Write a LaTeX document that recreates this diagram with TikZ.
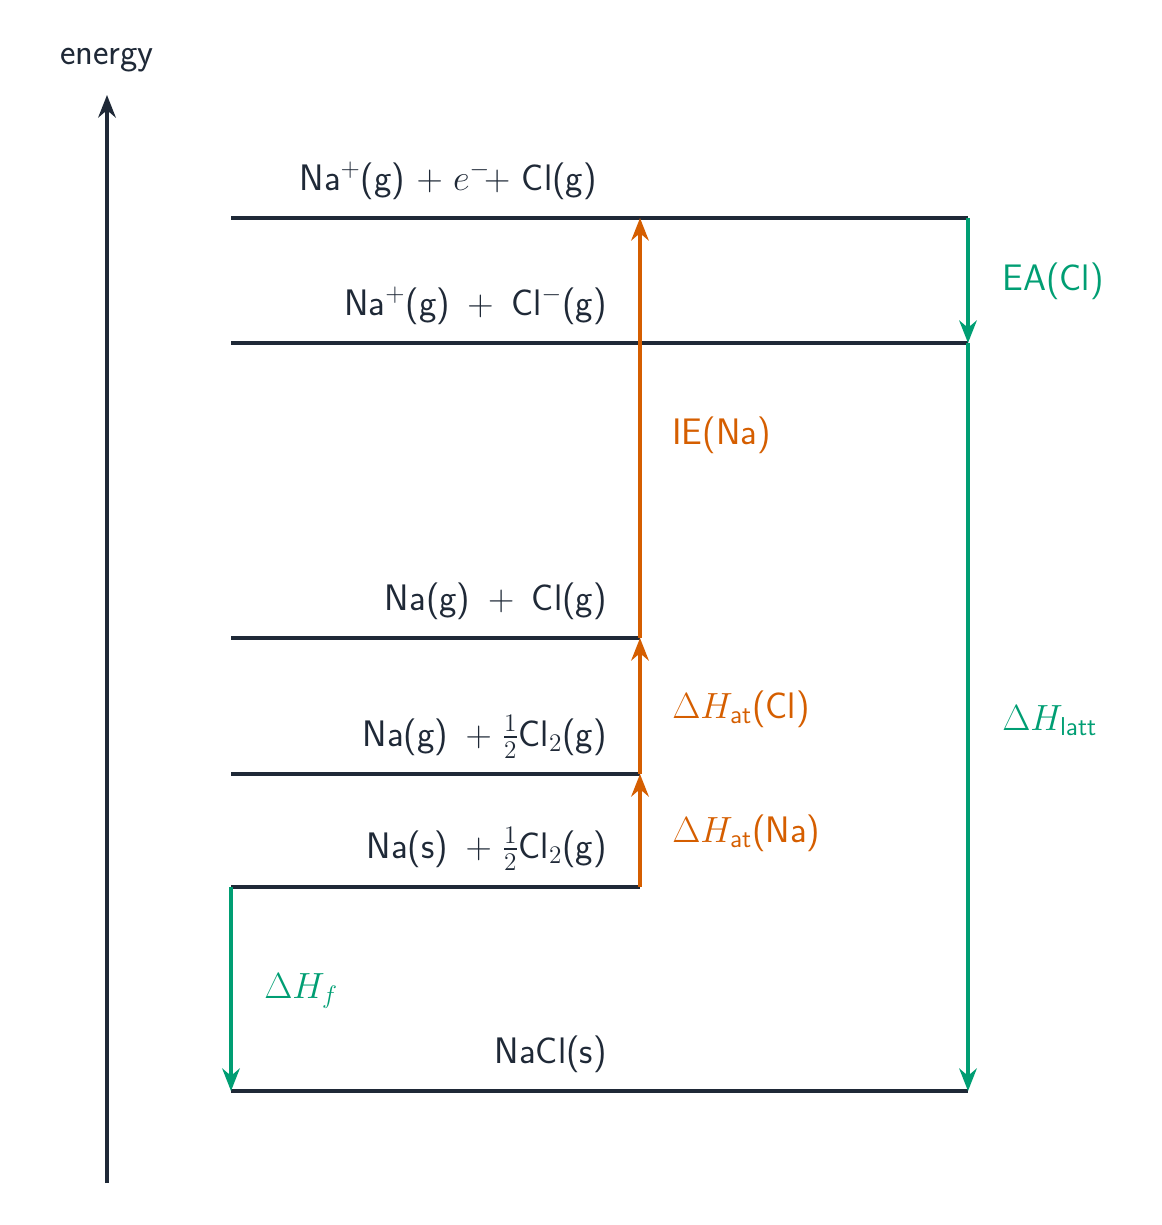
\documentclass[tikz,border=0pt]{standalone}
\usepackage{amsmath}
\usepackage{tikz}
\usetikzlibrary{positioning, arrows.meta}
\definecolor{bhDark}{RGB}{31, 41, 55}
\definecolor{bhOrange}{RGB}{213, 94, 0}
\definecolor{bhGreen}{RGB}{0, 158, 115}
\tikzset{
    base/.style={
        font=\fontsize{21}{25}\selectfont\sffamily
    },
    level/.style={
        line width=2.2pt,
        color=bhDark
    },
    species/.style={
        base,
        text=bhDark,
        anchor=base east,
        inner sep=0pt
    },
    hstep/.style={
        -{Stealth[length=4.5mm, width=3.5mm]},
        line width=2.2pt,
        color=bhOrange
    },
    hcycle/.style={
        hstep,
        color=bhGreen
    },
    steplabel/.style={
        base,
        anchor=base west,
        inner sep=0pt
    }
}
\begin{document}
\begin{tikzpicture}[x=0.02cm, y=-0.02cm]
    \useasboundingbox (0,0) rectangle (1162,1225);

    % Energy axis
    \coordinate (axB) at (107,1183);
    \coordinate (axT) at (107,95);
    \draw[level, -{Stealth[length=4.5mm, width=3.5mm]}] (axB) -- (axT);
    \node[base, text=bhDark] (energy) at (107,60) {energy};

    % Levels
    \coordinate (L1a) at (231,218);  \coordinate (L1b) at (968,218);
    \coordinate (L2a) at (231,343);  \coordinate (L2b) at (968,343);
    \coordinate (L3a) at (231,638);  \coordinate (L3b) at (640,638);
    \coordinate (L4a) at (231,774);  \coordinate (L4b) at (640,774);
    \coordinate (L5a) at (231,887);  \coordinate (L5b) at (640,887);
    \coordinate (L6a) at (231,1091); \coordinate (L6b) at (968,1091);
    \coordinate (L1m) at (640,218);
    \foreach \l in {1,...,6}
        \draw[level] (L\l a) -- (L\l b);

    % Species
    \node[species] (s1) at (597,190) {Na$^{+}$(g) $+\;e^{-}\!+$ Cl(g)};
    \node[species] (s2) at (607,315) {Na$^{+}$(g) $\,+\,$ Cl$^{-}$(g)};
    \node[species] (s3) at (607,610) {Na(g) $\,+\,$ Cl(g)};
    \node[species] (s4) at (607,746) {Na(g) $\,+\;\frac{1}{2}$Cl$_2$(g)};
    \node[species] (s5) at (607,858) {Na(s) $\,+\;\frac{1}{2}$Cl$_2$(g)};
    \node[species] (s6) at (607,1063) {NaCl(s)};

    % Steps
    \draw[hstep] (L5b) -- (L4b);
    \draw[hstep] (L4b) -- (L3b);
    \draw[hstep] (L3b) -- (L1m);
    \draw[hcycle] (L1b) -- (L2b);
    \draw[hcycle] (L2b) -- (L6b);
    \draw[hcycle] (L5a) -- (L6a);

    % Step labels
    \node[steplabel, text=bhOrange] (ie) at (672,444) {IE(Na)};
    \node[steplabel, text=bhOrange] (atcl) at (672,718) {$\Delta H_{\text{at}}$(Cl)};
    \node[steplabel, text=bhOrange] (atna) at (672,842) {$\Delta H_{\text{at}}$(Na)};
    \node[steplabel, text=bhGreen] (ea) at (1002,290) {EA(Cl)};
    \node[steplabel, text=bhGreen] (latt) at (1002,730) {$\Delta H_{\text{latt}}$};
    \node[steplabel, text=bhGreen] (hf) at (264,998) {$\Delta H_f$};
\end{tikzpicture}
\end{document}
